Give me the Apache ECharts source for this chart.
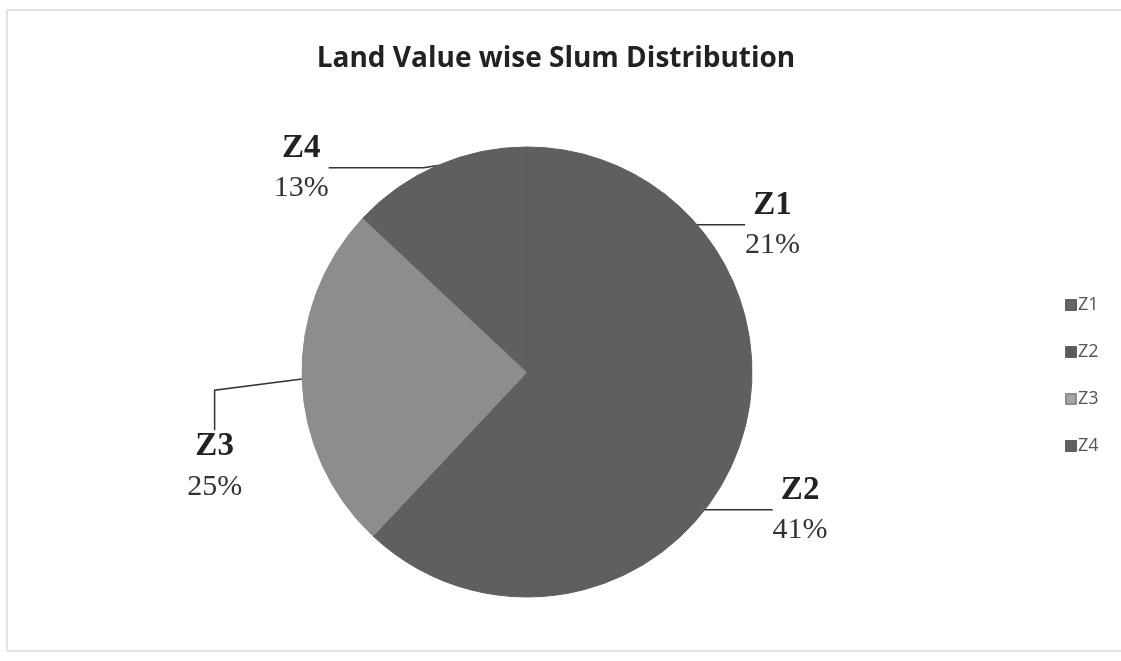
<!DOCTYPE html>
<html><head><meta charset="utf-8">
<script src="https://cdn.jsdelivr.net/npm/echarts@6/dist/echarts.min.js"></script>
<style>html,body{margin:0;padding:0;background:#fff}#c{width:1121px;height:661px}</style>
</head><body><div id="c"></div>
<script>
const titleText = 'Land Value wise Slum Distribution';
const categories = ['Z1', 'Z2', 'Z3', 'Z4'];
const values = [21, 41, 25, 13];
const sliceColors = ['#5f5f5f', '#5f5f5f', '#8d8d8d', '#5f5f5f'];
const legendColors = ['#666', '#5a5a5a', '#a5a5a5', '#616161'];

const chart = echarts.init(document.getElementById('c'));
// label-line styling per slice (guide length, label padding, label nudge)
const lineCfg = {
  Z1: { len: 62, pad: [18, 0, 0, 0], shift: [7, 22] },
  Z2: { len: 100, pad: [0, 0, 64, 0], shift: [21, 1] },
  Z3: { len: 40, pad: [18, 0, 0, 0], shift: [-5, 70] },
  Z4: { len: 95, pad: [18, 0, 0, 0], shift: [-5, -5] }
};
chart.setOption({
  animation: false,
  backgroundColor: '#fff',
  graphic: [{ type: 'rect', shape: { x: 7, y: 10, width: 1130, height: 641 }, style: { fill: 'none', stroke: '#c8c8c8', lineWidth: 1 }, silent: true }],
  title: { text: titleText, left: 551, top: 40, textAlign: 'center',
    textStyle: { fontFamily: 'Open Sans', fontWeight: 'bold', fontSize: 28, color: '#222' } },
  legend: {
    orient: 'vertical', left: 1060, top: 291, itemWidth: 10, itemHeight: 10, itemGap: 29,
    icon: 'rect',
    textStyle: { fontFamily: 'Open Sans', fontSize: 18, color: '#555', padding: [0, 0, 0, -3] },
    data: categories.map((c, i) => ({ name: c, itemStyle: { color: legendColors[i] } }))
  },
  series: [{
    type: 'pie', center: [527, 372], radius: 225, startAngle: 90, clockwise: true,
    label: {
      show: true, position: 'outside', alignTo: 'none',
      formatter: p => '{n|' + p.name + '}\n{v|' + p.value + '%}',
      rich: {
        n: { fontFamily: 'Liberation Serif', fontWeight: 'bold', fontSize: 33, color: '#222', align: 'center', lineHeight: 40 },
        v: { fontFamily: 'Liberation Serif', fontSize: 30, color: '#333', align: 'center', lineHeight: 40 }
      }
    },
    labelLine: { show: true, lineStyle: { color: '#333', width: 1.5 } },
    labelLayout: p => {
      const s = lineCfg[categories[p.dataIndex]].shift;
      const r = p.labelRect;
      const left = p.align === 'right' ? r.x + r.width : r.x;
      return { x: left + s[0], y: r.y + r.height / 2 + s[1] };
    },
    data: categories.map((c, i) => ({
      name: c, value: values[i],
      itemStyle: { color: sliceColors[i], borderWidth: 1, borderColor: sliceColors[i] },
      label: { padding: lineCfg[c].pad },
      labelLine: { show: true, length: 10, length2: lineCfg[c].len }
    }))
  }]
});
</script></body></html>
